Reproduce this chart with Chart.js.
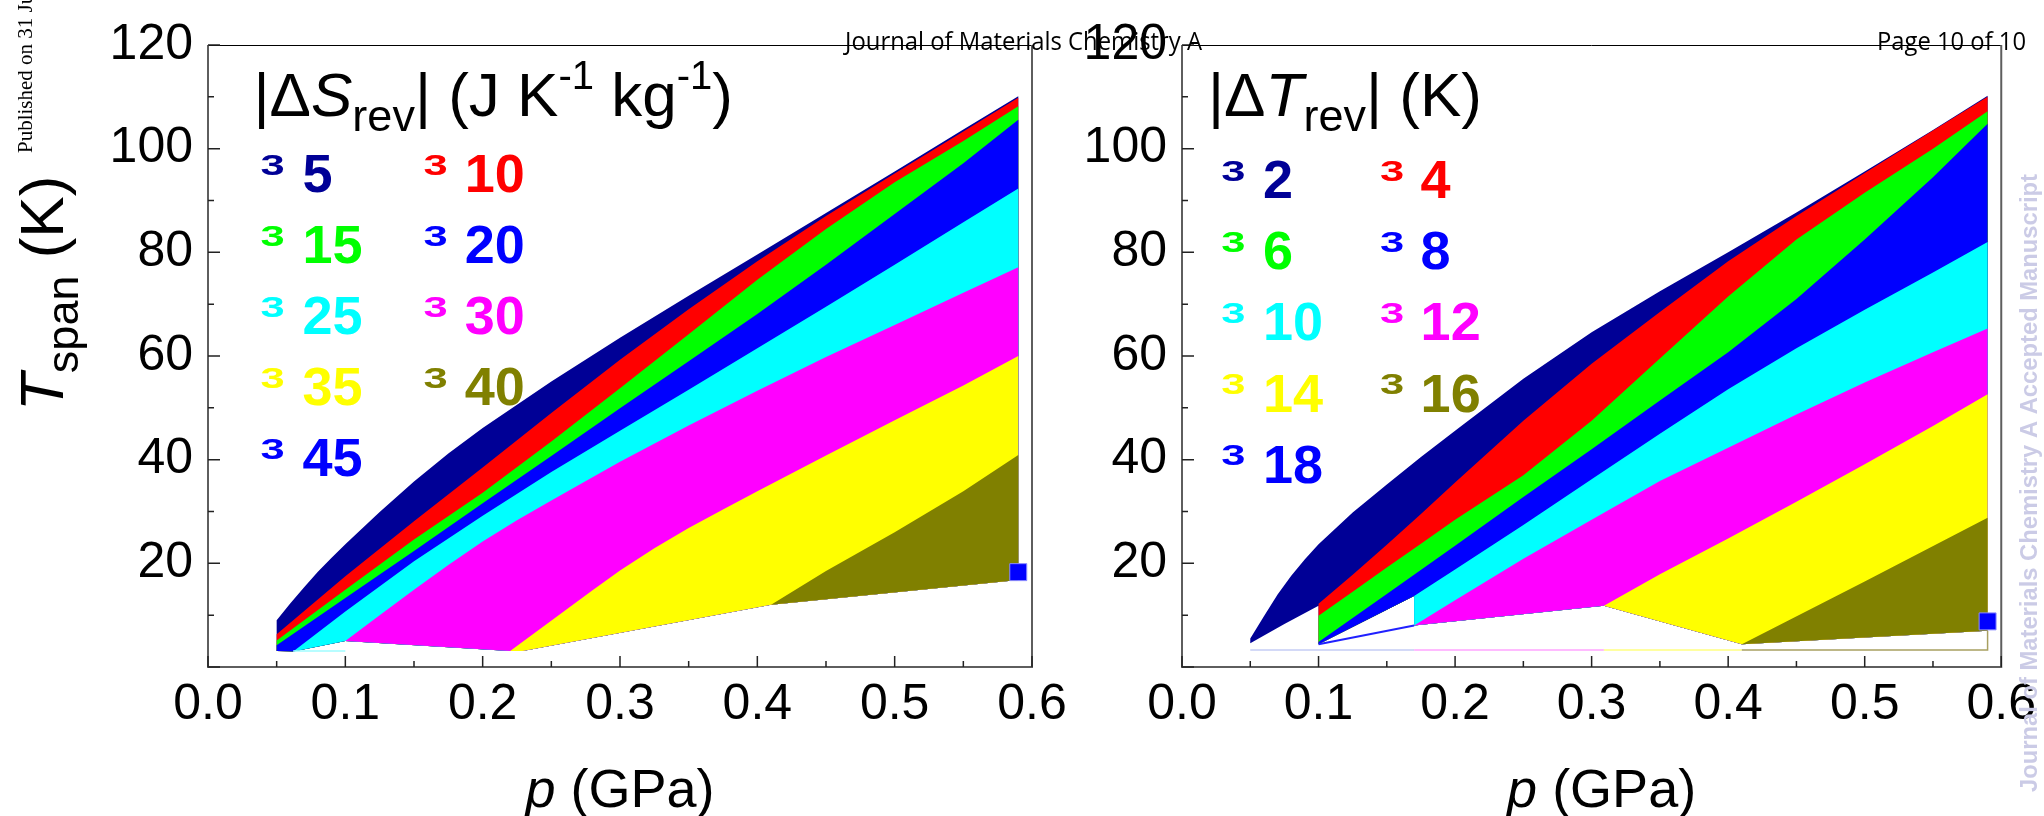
<!DOCTYPE html>
<html>
<head>
<meta charset="utf-8">
<title>Tspan vs p</title>
<script src="https://cdn.jsdelivr.net/npm/chart.js@4.4.1/dist/chart.umd.min.js"></script>
<style>
  html, body { margin: 0; padding: 0; background: #ffffff; overflow: hidden; }
  #wrap { position: relative; width: 2044px; height: 816px; }
  #wrap canvas { position: absolute; top: 0; }
</style>
</head>
<body>
<div id="wrap">
  <canvas id="chartS" width="1110" height="816" style="left:0"></canvas>
  <canvas id="chartT" width="1004" height="816" style="left:1040px"></canvas>
  <canvas id="sheet" width="2044" height="816" style="left:0"></canvas>
</div>
<script>
// axes
const pTickVals = [0, 0.1, 0.2, 0.3, 0.4, 0.5, 0.6];
const pTickLabels = ['0.0', '0.1', '0.2', '0.3', '0.4', '0.5', '0.6'];
const tTickVals = [0, 20, 40, 60, 80, 100, 120];
const tTickLabels = ['', '20', '40', '60', '80', '100', '120'];

// contour levels
const levelsS = [5, 10, 15, 20, 25, 30, 35, 40, 45];   // |dS_rev| J K-1 kg-1
const levelsT = [2, 4, 6, 8, 10, 12, 14, 16, 18];      // |dT_rev| K

// left panel: upper edge [p, Tspan] of each region |dS_rev| >= level
const sTop5  = [[0.05, 9.0], [0.06, 12.3], [0.07, 15.4], [0.08, 18.4], [0.09, 21.1], [0.1, 23.7], [0.125, 29.9], [0.15, 35.8], [0.175, 41.2], [0.2, 46.1], [0.25, 55.1], [0.3, 63.5], [0.35, 71.6], [0.4, 79.6], [0.45, 87.6], [0.5, 95.6], [0.55, 103.7], [0.59, 110.1]];
const sTop10 = [[0.05, 6.3], [0.1, 17.5], [0.15, 28.1], [0.2, 38.5], [0.25, 49.0], [0.3, 59.3], [0.35, 69.0], [0.4, 78.3], [0.45, 87.0], [0.5, 95.2], [0.55, 103.3], [0.59, 109.8]];
const sTop15 = [[0.05, 5.1], [0.1, 14.9], [0.15, 24.6], [0.2, 33.6], [0.25, 43.5], [0.3, 53.8], [0.35, 64.2], [0.4, 74.7], [0.45, 84.5], [0.5, 93.5], [0.55, 101.5], [0.59, 108.2]];
const sTop20 = [[0.05, 4.2], [0.1, 13.3], [0.15, 22.4], [0.2, 31.6], [0.25, 40.7], [0.3, 49.9], [0.35, 59.0], [0.4, 68.1], [0.45, 77.6], [0.5, 87.4], [0.55, 97.2], [0.59, 105.6]];
const sTop25 = [[0.062, 3.0], [0.1, 10.7], [0.15, 20.4], [0.2, 29.2], [0.25, 37.6], [0.3, 45.6], [0.35, 53.5], [0.4, 61.5], [0.45, 69.5], [0.5, 77.6], [0.55, 85.8], [0.59, 92.3]];
const sTop30 = [[0.1, 5.0], [0.125, 10.0], [0.15, 14.9], [0.175, 19.7], [0.2, 24.2], [0.225, 28.3], [0.25, 32.1], [0.3, 39.6], [0.35, 46.6], [0.4, 53.3], [0.45, 59.8], [0.5, 66.0], [0.55, 72.2], [0.59, 77.1]];
const sTop35 = [[0.22, 3.1], [0.24, 7.0], [0.26, 10.9], [0.28, 14.8], [0.3, 18.6], [0.325, 22.9], [0.35, 26.8], [0.375, 30.4], [0.4, 33.9], [0.45, 40.8], [0.5, 47.6], [0.55, 54.3], [0.59, 60.0]];
const sTop40 = [[0.41, 12.0], [0.45, 18.5], [0.5, 26.0], [0.55, 33.9], [0.59, 40.9]];
const sDot45 = [[0.59, 18.3]];
const sFloor = [[0.05, 3.1], [0.062, 3.0], [0.1, 5.0], [0.22, 3.1], [0.229, 3.1], [0.41, 12.0], [0.59, 16.8]];
const sRule  = [[0.062, 3.1], [0.1, 3.1]];

// right panel: upper edge [p, Tspan] of each region |dT_rev| >= level
const tTop2  = [[0.05, 5.5], [0.06, 9.8], [0.07, 14.0], [0.08, 17.6], [0.09, 20.8], [0.1, 23.7], [0.125, 29.8], [0.15, 35.2], [0.175, 40.5], [0.2, 45.6], [0.25, 55.6], [0.3, 64.6], [0.35, 72.5], [0.4, 80.0], [0.45, 87.7], [0.5, 95.6], [0.55, 103.6], [0.59, 110.2]];
const tTop4  = [[0.1, 12.2], [0.125, 17.8], [0.15, 23.6], [0.175, 29.5], [0.2, 35.6], [0.25, 47.5], [0.3, 58.5], [0.35, 68.5], [0.4, 78.3], [0.45, 87.0], [0.5, 95.3], [0.55, 103.5], [0.59, 110.0]];
const tTop6  = [[0.1, 9.9], [0.125, 14.5], [0.15, 19.2], [0.175, 23.8], [0.2, 28.4], [0.25, 37.0], [0.3, 47.5], [0.35, 59.5], [0.4, 71.5], [0.45, 82.5], [0.5, 91.5], [0.55, 100.0], [0.59, 107.2]];
const tTop8  = [[0.1, 4.8], [0.15, 14.1], [0.2, 23.4], [0.25, 32.8], [0.3, 42.0], [0.35, 51.4], [0.4, 60.7], [0.45, 71.0], [0.5, 82.5], [0.55, 94.5], [0.59, 104.8]];
const tTop10 = [[0.17, 13.7], [0.2, 18.8], [0.25, 27.4], [0.3, 36.2], [0.35, 45.0], [0.4, 53.6], [0.45, 61.5], [0.5, 68.9], [0.55, 76.1], [0.59, 82.0]];
const tTop12 = [[0.17, 8.0], [0.2, 12.9], [0.25, 20.9], [0.3, 28.4], [0.35, 35.9], [0.4, 42.3], [0.45, 48.7], [0.5, 54.9], [0.55, 60.7], [0.59, 65.3]];
const tTop14 = [[0.309, 11.8], [0.35, 17.9], [0.4, 24.8], [0.45, 31.9], [0.5, 39.1], [0.55, 46.5], [0.59, 52.6]];
const tTop16 = [[0.41, 4.4], [0.5, 16.5], [0.59, 28.8]];
const tDot18 = [[0.59, 8.8]];
const tFloor = [[0.05, 4.6], [0.075, 8.3], [0.1, 11.8], [0.1, 4.4], [0.17, 13.7], [0.17, 8.0], [0.309, 11.8], [0.41, 4.4], [0.59, 7.0]];
const tWedge = [[0.1, 4.4], [0.17, 8.0]];
const tRule  = [[0.05, 3.3], [0.17, 3.3], [0.309, 3.3], [0.41, 3.3], [0.59, 3.3], [0.59, 7.0]];

const levelColors = ['#000096', '#ff0000', '#00ff00', '#0000ff', '#00ffff', '#ff00ff', '#ffff00', '#808000', '#0000ff'];
const tRuleColors = ['#c4ccf4', '#ffa4ff', '#ffff80', '#a8a060', '#a8a060'];
const SANS = '"Liberation Sans", Arial, sans-serif';

const toXY = pts => pts.map(([x, y]) => ({x, y}));

// closed outline: the upper edge left to right, then back along the floor
function region(top, floor) {
  const x0 = top[0][0];
  const under = floor.filter(([p]) => p >= x0).reverse();
  return toXY(top.concat(under));
}

function runFont(r) {
  return (r.italic ? 'italic ' : '') + (r.bold ? 'bold ' : '') + r.size + 'px ' + SANS;
}
function drawRuns(ctx, x, y, runs) {
  for (const r of runs) {
    ctx.font = runFont(r);
    ctx.fillText(r.text, x, y + (r.dy || 0));
    x += ctx.measureText(r.text).width;
  }
  return x;
}
function runsWidth(ctx, runs) {
  let w = 0;
  for (const r of runs) { ctx.font = runFont(r); w += ctx.measureText(r.text).width; }
  return w;
}

const titleS = [
  {text: '|', size: 62}, {text: '\u0394', size: 62}, {text: 'S', size: 62, italic: true},
  {text: 'rev', size: 45, dy: 15}, {text: '|', size: 62}, {text: ' (J K', size: 62},
  {text: '-1', size: 40, dy: -27}, {text: ' kg', size: 62}, {text: '-1', size: 40, dy: -27},
  {text: ')', size: 62}
];
const titleT = [
  {text: '|', size: 62}, {text: '\u0394', size: 62}, {text: 'T', size: 62, italic: true},
  {text: 'rev', size: 45, dy: 15}, {text: '|', size: 62}, {text: ' (K)', size: 62}
];
const yTitle = [{text: 'T', size: 62, italic: true}, {text: 'span', size: 45, dy: 15}, {text: ' (K)', size: 62}];
const xTitle = [{text: 'p', size: 54, italic: true}, {text: ' (GPa)', size: 54}];

// frame, inward ticks, axis titles and the level key
function makeDecor(cfg) {
  return {
    id: 'decor',
    afterDraw(chart) {
      const {ctx, chartArea: a} = chart;
      const xs = chart.scales.x, ys = chart.scales.y;
      ctx.save();

      ctx.lineWidth = 1;
      ctx.strokeStyle = '#000';
      ctx.beginPath();
      ctx.moveTo(a.left, a.top + 0.5);
      ctx.lineTo(a.right, a.top + 0.5);
      ctx.stroke();
      ctx.lineWidth = 2;
      ctx.strokeStyle = '#5e5e5e';
      ctx.beginPath();
      ctx.moveTo(a.left, a.top);
      ctx.lineTo(a.left, a.bottom);
      ctx.lineTo(a.right, a.bottom);
      ctx.lineTo(a.right, a.top);
      ctx.stroke();

      ctx.lineWidth = 1.5;
      ctx.strokeStyle = '#222';
      ctx.beginPath();
      tTickVals.forEach((v, i) => {
        const y = ys.getPixelForValue(v);
        ctx.moveTo(a.left, y); ctx.lineTo(a.left + 12, y);
        if (i > 0) {
          const ym = ys.getPixelForValue((v + tTickVals[i - 1]) / 2);
          ctx.moveTo(a.left, ym); ctx.lineTo(a.left + 6, ym);
        }
      });
      pTickVals.forEach((v, i) => {
        const x = xs.getPixelForValue(v);
        ctx.moveTo(x, a.bottom); ctx.lineTo(x, a.bottom - 11);
        if (i > 0) {
          const xm = xs.getPixelForValue((v + pTickVals[i - 1]) / 2);
          ctx.moveTo(xm, a.bottom); ctx.lineTo(xm, a.bottom - 6);
        }
      });
      ctx.stroke();

      ctx.fillStyle = '#000';
      ctx.textBaseline = 'alphabetic';
      ctx.textAlign = 'left';
      const cx = (a.left + a.right) / 2 + cfg.xTitleShift;
      drawRuns(ctx, cx - runsWidth(ctx, xTitle) / 2, 807, xTitle);
      if (cfg.yTitle) {
        ctx.save();
        ctx.translate(63, 411);
        ctx.rotate(-Math.PI / 2);
        drawRuns(ctx, 0, 0, yTitle);
        ctx.restore();
      }

      drawRuns(ctx, cfg.titleX, 116, cfg.title);

      // key: a wide bold "3" marker followed by the level value
      cfg.levels.forEach((lv, i) => {
        const row = Math.floor(i / 2), col = i % 2;
        const top = cfg.rowTop + row * 71.1;
        ctx.fillStyle = levelColors[i];
        ctx.font = 'bold 30px ' + SANS;
        ctx.save();
        ctx.translate(cfg.symX[col] - 1.5, top + 21.5);
        ctx.scale(1.45, 1);
        ctx.fillText('3', 0, 0);
        ctx.restore();
        ctx.font = 'bold 54px ' + SANS;
        ctx.fillText(String(lv), cfg.numX[col] - 3, top + 38.7);
      });
      ctx.restore();
    }
  };
}

function buildPanel(id, tops, floor, dot, extras, plotLeft, plotRight, decor) {
  const canvas = document.getElementById(id);
  const datasets = tops.map((top, k) => ({
    data: region(top, floor),
    backgroundColor: levelColors[k],
    borderWidth: 0,
    pointRadius: 0,
    tension: 0,
    fill: 'shape',
    order: 100 - k
  }));
  extras.forEach(e => datasets.push(Object.assign({
    pointRadius: 0, fill: false, tension: 0, order: 10
  }, e)));
  datasets.push({
    data: toXY(dot),
    showLine: false,
    pointStyle: 'rect',
    pointRadius: 12,
    pointBackgroundColor: levelColors[8],
    pointBorderColor: '#8c8cff',
    pointBorderWidth: 1,
    clip: false,
    order: 0
  });

  const tickFont = {family: SANS, size: 50, lineHeight: 1.2};
  return new Chart(canvas, {
    type: 'line',
    data: {datasets},
    options: {
      responsive: false,
      animation: false,
      devicePixelRatio: 1,
      events: [],
      layout: {padding: {left: 0, top: 37, right: canvas.width - plotRight, bottom: 0}},
      plugins: {legend: {display: false}, tooltip: {enabled: false}},
      scales: {
        x: {
          type: 'linear', min: 0, max: 0.6,
          afterBuildTicks: s => { s.ticks = pTickVals.map(v => ({value: v})); },
          ticks: {callback: (v, i) => pTickLabels[i], font: tickFont, color: '#000', padding: 8, maxRotation: 0, autoSkip: false},
          grid: {display: false, drawTicks: false},
          border: {display: false},
          afterFit: s => { s.height = 149; }
        },
        y: {
          type: 'linear', min: 0, max: 120,
          afterBuildTicks: s => { s.ticks = tTickVals.map(v => ({value: v})); },
          ticks: {callback: (v, i) => tTickLabels[i], font: tickFont, color: '#000', padding: 15, autoSkip: false},
          grid: {display: false, drawTicks: false},
          border: {display: false},
          afterFit: s => { s.width = plotLeft; }
        }
      }
    },
    plugins: [makeDecor(decor)]
  });
}

buildPanel('chartS',
  [sTop5, sTop10, sTop15, sTop20, sTop25, sTop30, sTop35, sTop40], sFloor, sDot45,
  [{data: toXY(sRule), borderColor: '#9ffcff', borderWidth: 1.5}],
  208, 1032,
  {title: titleS, titleX: 253.5, levels: levelsS, rowTop: 153, symX: [262, 425], numX: [305.5, 467.8], yTitle: true, xTitleShift: 0});

buildPanel('chartT',
  [tTop2, tTop4, tTop6, tTop8, tTop10, tTop12, tTop14, tTop16], tFloor, tDot18,
  [{data: toXY(tWedge), borderColor: '#2020ff', borderWidth: 2},
   {data: toXY(tRule), borderWidth: 1.5, segment: {borderColor: c => tRuleColors[c.p0DataIndex]}}],
  142, 964,
  {title: titleT, titleX: 168, levels: levelsT, rowTop: 159.5, symX: [182.7, 341.5], numX: [226, 383.6], yTitle: false, xTitleShift: 10});

// page furniture around the figure
const sheet = document.getElementById('sheet').getContext('2d');
function fitText(ctx, text, x, y, width) {
  const w = ctx.measureText(text).width;
  ctx.save();
  ctx.translate(x, y);
  ctx.scale(width / w, 1);
  ctx.fillText(text, 0, 0);
  ctx.restore();
}
sheet.fillStyle = '#000';
sheet.font = '26px "Open Sans", sans-serif';
fitText(sheet, 'Journal of Materials Chemistry A', 845, 50, 357);
fitText(sheet, 'Page 10 of 10', 1877, 50, 149);

sheet.save();
sheet.font = '21px "Liberation Serif", serif';
sheet.translate(31.5, 153);
sheet.rotate(-Math.PI / 2);
sheet.fillText('Published on 31 Ju', 0, 0);
sheet.restore();

sheet.save();
sheet.fillStyle = '#cbcbe6';
sheet.font = 'bold 24px ' + SANS;
sheet.translate(2037, 792);
sheet.rotate(-Math.PI / 2);
fitText(sheet, 'Journal of Materials Chemistry A Accepted Manuscript', 0, 0, 618);
sheet.restore();
</script>
</body>
</html>
